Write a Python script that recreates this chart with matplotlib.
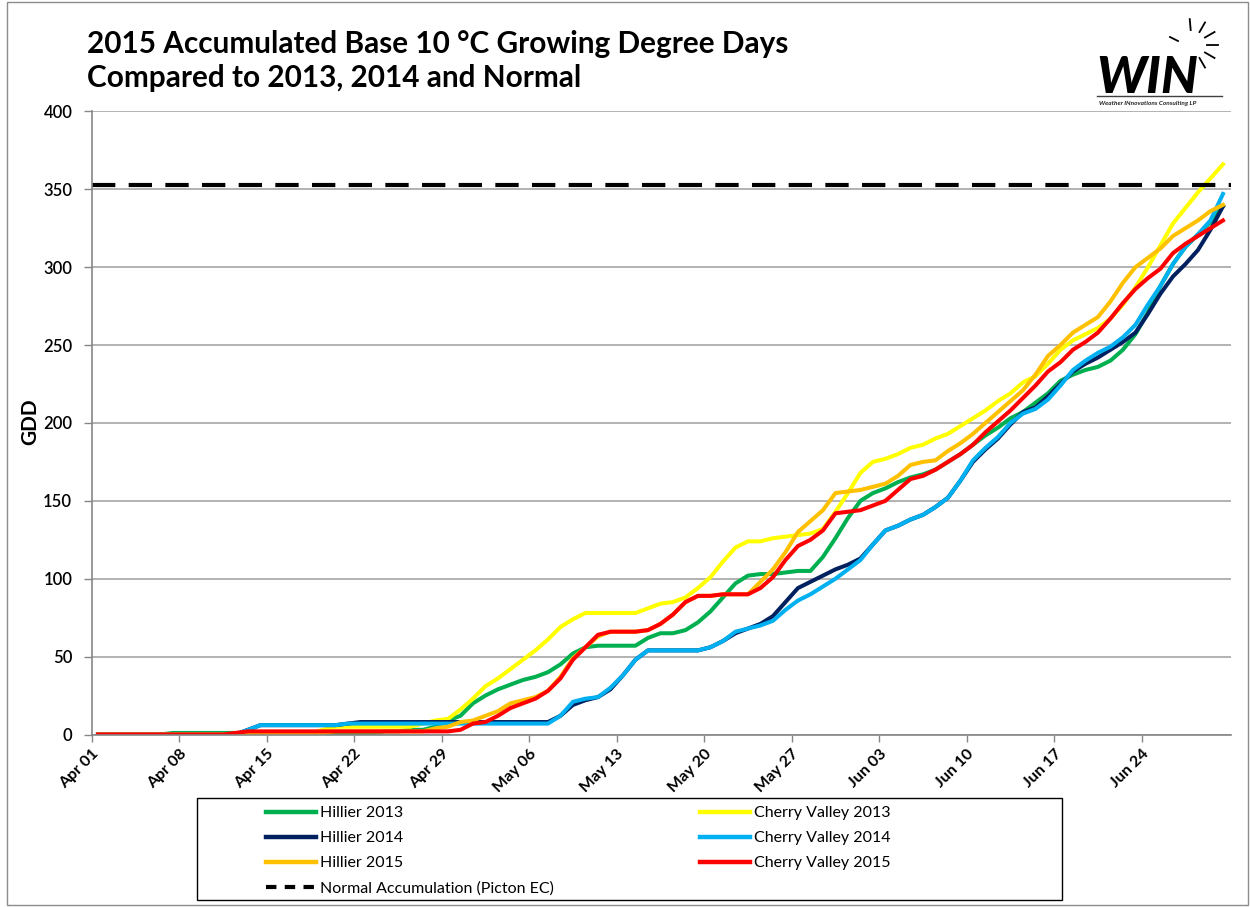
import numpy as np
import pandas as pd
import matplotlib
matplotlib.use("Agg")
import matplotlib.pyplot as plt
from matplotlib.lines import Line2D
from matplotlib.patches import Rectangle

plt.rcParams['font.family'] = ['Lato', 'DejaVu Sans']

# ---------------- data (accumulated GDD, Apr 01 .. Jun 30, 2015 calendar) ----------------
dates = pd.date_range("2015-04-01", "2015-06-30", freq="D")

hillier_2013 = [0, 0, 0, 0, 0, 0, 1, 1, 1, 1, 1, 1, 1, 1, 1, 1, 1, 1, 1, 1,
                1, 1, 1, 2, 2, 3, 3, 5, 9, 12, 20, 25, 29, 32, 35, 37, 40, 45, 52, 56,
                57, 57, 57, 57, 62, 65, 65, 67, 72, 79, 88, 97, 102, 103, 103, 104, 105, 105, 114, 126,
                139, 150, 155, 158, 162, 165, 167, 170, 175, 180, 186, 192, 197, 203, 207, 213, 219, 227, 231, 234,
                236, 240, 247, 257, 271, 288, 302, 313, 321, 329, 339]
cherry_2013 = [0, 0, 0, 0, 0, 0, 0, 0, 0, 0, 0, 0, 0, 0, 0, 0, 0, 1, 3, 5,
               5, 5, 5, 5, 5, 5, 7, 9, 10, 16, 23, 31, 36, 42, 48, 54, 61, 69, 74, 78,
               78, 78, 78, 78, 81, 84, 85, 88, 94, 101, 111, 120, 124, 124, 126, 127, 128, 129, 132, 143,
               155, 168, 175, 177, 180, 184, 186, 190, 193, 198, 203, 208, 214, 219, 226, 230, 238, 247, 253, 257,
               261, 267, 276, 287, 300, 314, 328, 338, 348, 357, 366]
hillier_2014 = [0, 0, 0, 0, 0, 0, 0, 0, 0, 0, 0, 0, 3, 6, 6, 6, 6, 6, 6, 6,
                7, 8, 8, 8, 8, 8, 8, 8, 8, 8, 8, 8, 8, 8, 8, 8, 8, 12, 19, 22,
                24, 29, 38, 48, 54, 54, 54, 54, 54, 56, 60, 65, 68, 71, 76, 85, 94, 98, 102, 106,
                109, 113, 122, 131, 134, 138, 141, 146, 152, 163, 175, 183, 190, 199, 207, 210, 217, 225, 233, 238,
                242, 247, 252, 258, 270, 283, 294, 302, 311, 324, 339]
cherry_2014 = [0, 0, 0, 0, 0, 0, 0, 0, 0, 0, 0, 0, 3, 6, 6, 6, 6, 6, 6, 6,
               7, 7, 7, 7, 7, 7, 7, 7, 7, 7, 7, 7, 7, 7, 7, 7, 7, 12, 21, 23,
               24, 30, 38, 48, 54, 54, 54, 54, 54, 56, 60, 66, 68, 70, 73, 80, 86, 90, 95, 100,
               106, 112, 122, 131, 134, 138, 141, 146, 152, 163, 176, 184, 191, 200, 206, 209, 215, 224, 234, 240,
               245, 249, 255, 263, 276, 288, 302, 313, 321, 330, 347]
hillier_2015 = [0, 0, 0, 0, 0, 0, 0, 0, 0, 0, 0, 0, 0, 0, 0, 0, 0, 0, 1, 2,
                2, 2, 2, 2, 2, 2, 2, 4, 5, 8, 9, 12, 15, 20, 22, 24, 28, 37, 49, 56,
                63, 66, 66, 66, 67, 71, 77, 85, 89, 89, 90, 90, 90, 98, 106, 117, 130, 137, 144, 155,
                156, 157, 159, 161, 166, 173, 175, 176, 182, 187, 193, 200, 207, 214, 221, 231, 243, 250, 258, 263,
                268, 278, 290, 300, 306, 312, 320, 325, 330, 336, 340]
cherry_2015 = [0, 0, 0, 0, 0, 0, 0, 0, 0, 0, 0, 1, 2, 2, 2, 2, 2, 2, 2, 2,
               2, 2, 2, 2, 2, 2, 2, 2, 2, 3, 7, 8, 12, 17, 20, 23, 28, 36, 48, 56,
               64, 66, 66, 66, 67, 71, 77, 85, 89, 89, 90, 90, 90, 94, 101, 112, 121, 125, 131, 142,
               143, 144, 147, 150, 157, 164, 166, 170, 175, 180, 186, 194, 201, 208, 216, 224, 233, 239, 247, 252,
               258, 267, 277, 286, 293, 299, 309, 315, 320, 325, 330]
normal_accumulation = 353

series_names = ["Hillier 2013", "Cherry Valley 2013", "Hillier 2014",
                "Cherry Valley 2014", "Hillier 2015", "Cherry Valley 2015"]
series_values = [hillier_2013, cherry_2013, hillier_2014, cherry_2014, hillier_2015, cherry_2015]
series_colors = ["#00B050", "#FFFF00", "#002060", "#00B0F0", "#FFC000", "#FF0000"]
normal_label = "Normal Accumulation (Picton EC)"

title_text = "2015 Accumulated Base 10 \u00b0C Growing Degree Days\nCompared to 2013, 2014 and Normal"
tick_every = 7

# ---------------- figure ----------------
W, H = 1250, 907
fig = plt.figure(figsize=(W / 100, H / 100), dpi=100)

def fx(x):
    return x / W

def fy(y):
    return 1 - y / H

ax_l, ax_r, ax_t, ax_b = 91.7, 1231.0, 111.4, 734.5
ax = fig.add_axes([fx(ax_l), fy(ax_b), fx(ax_r - ax_l), (ax_b - ax_t) / H])

n = len(dates)
xpos = np.arange(n) + 0.5  # categories plotted between tick marks
for name, vals, col in zip(series_names, series_values, series_colors):
    ax.plot(xpos, vals, color=col, lw=2.9, label=name, solid_joinstyle='round')

ax.axhline(normal_accumulation, color='black', lw=3.0, dashes=(5.6, 3.2))

ax.set_xlim(0, (ax_r - ax_l) / 12.5)
ax.set_ylim(0, 400)
ax.set_yticks(np.arange(0, 401, 50))
tick_idx = np.arange(0, n, tick_every)
ax.set_xticks(tick_idx)
ax.set_xticklabels([dates[i].strftime("%b %d") for i in tick_idx], rotation=45,
                   ha='right', va='top', rotation_mode='anchor', fontsize=11.5,
                   fontweight='bold')
for lbl in ax.get_yticklabels():
    lbl.set_fontsize(12)
    lbl.set_fontweight('semibold')
ax.tick_params(axis='x', direction='out', length=5, width=1, color='#868686', pad=4)
ax.tick_params(axis='y', direction='out', length=6, width=1, color='#868686', pad=8)
ax.grid(axis='y', color='#A6A6A6', lw=1.2)
ax.set_axisbelow(True)
for s in ['top', 'right']:
    ax.spines[s].set_visible(False)
for s in ['left', 'bottom']:
    ax.spines[s].set_color('#868686')
    ax.spines[s].set_linewidth(1.2)

fig.text(fx(30), fy(422), "GDD", rotation=90, ha='center', va='center',
         fontsize=15, fontweight='bold', family=['Lato', 'DejaVu Sans'])

# ---------------- title ----------------
fig.text(fx(87), fy(30), title_text, ha='left', va='top', fontsize=21.4,
         fontweight='bold', linespacing=1.28)

# ---------------- legend (two columns in a single box) ----------------
fig.patches.append(Rectangle((fx(197), fy(900)), fx(1062 - 197), (900 - 798) / H,
                             transform=fig.transFigure, fill=False, ec='black', lw=1.0))
handles = {name: Line2D([], [], color=c, lw=3.2) for name, c in zip(series_names, series_colors)}
normal_handle = Line2D([], [], color='black', lw=3.0, dashes=(2.5, 2.0))
col1 = [series_names[0], series_names[2], series_names[4]]
col2 = [series_names[1], series_names[3], series_names[5]]
leg_kw = dict(frameon=False, fontsize=11.5, handlelength=3.1, handletextpad=0.25,
              labelspacing=0.68, borderpad=0, borderaxespad=0, loc='upper left')
leg1 = fig.legend([handles[k] for k in col1] + [normal_handle], col1 + [normal_label],
                  bbox_to_anchor=(fx(266), fy(806)), **leg_kw)
leg2 = fig.legend([handles[k] for k in col2], col2,
                  bbox_to_anchor=(fx(700), fy(806)), **leg_kw)

# ---------------- outer border ----------------
fig.patches.append(Rectangle((fx(7), fy(905)), fx(1248 - 7), (905 - 2) / H,
                             transform=fig.transFigure, fill=False, ec='#8C8C8C', lw=1.0))

# ---------------- logo ----------------
fig.text(fx(1096), fy(93), "WIN", ha='left', va='baseline', fontsize=37,
         fontweight='black', fontstyle='italic', color='black')
fig.add_artist(Line2D([fx(1097), fx(1222)], [fy(96), fy(96)], color='#404040', lw=1.0))
fig.text(fx(1099), fy(104), "Weather INnovations Consulting LP", ha='left', va='center',
         fontsize=4.6, fontweight='bold', fontstyle='italic', color='#202020')
cx, cy = 1192, 45
for ang in [95, 60, 30, 0, -30, -60]:
    a = np.deg2rad(ang)
    r0, r1 = 15, 26
    fig.add_artist(Line2D([fx(cx + r0 * np.cos(a)), fx(cx + r1 * np.cos(a))],
                          [fy(cy - r0 * np.sin(a)), fy(cy - r1 * np.sin(a))],
                          color='black', lw=1.3))
fig.add_artist(Line2D([fx(cx - 22), fx(cx - 14)], [fy(cy - 8), fy(cy - 4)], color='black', lw=1.3))

fig.savefig("out.png", dpi=100)
